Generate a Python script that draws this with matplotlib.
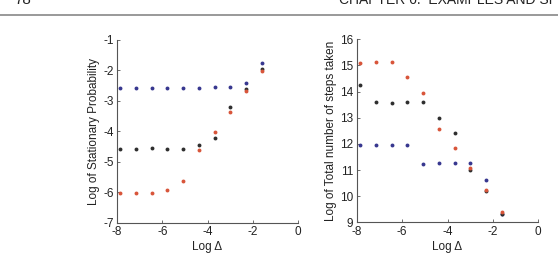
import matplotlib
matplotlib.use('Agg')
import matplotlib.pyplot as plt

plt.rcParams['font.family'] = ['Liberation Sans', 'DejaVu Sans']
plt.rcParams['axes.unicode_minus'] = False

# log of step size: delta = 0.2 / 2^k
log_delta = [-7.85, -7.15, -6.46, -5.77, -5.08, -4.38, -3.69, -3.00, -2.30, -1.61]

# left panel: log of stationary probability
prob_blue = [-2.59, -2.59, -2.59, -2.59, -2.56, -2.59, -2.54, -2.55, -2.42, -1.76]
prob_black = [-4.59, -4.59, -4.56, -4.57, -4.57, -4.46, -4.21, -3.21, -2.62, -1.94]
prob_red = [-6.01, -6.01, -6.03, -5.93, -5.64, -4.62, -4.01, -3.35, -2.67, -2.01]

# right panel: log of total number of steps taken
steps_blue = [11.95, 11.97, 11.95, 11.97, 11.24, 11.27, 11.27, 11.27, 10.63, 9.30]
steps_black = [14.27, 13.60, 13.57, 13.60, 13.60, 13.00, 12.41, 10.99, 10.21, 9.30]
steps_red = [15.11, 15.15, 15.12, 14.54, 13.96, 12.57, 11.85, 11.06, 10.22, 9.41]

BLUE = '#37378f'
BLACK = '#2e2e2e'
RED = '#d8553a'
FS = 8.5

fig = plt.figure(figsize=(5.58, 2.59), dpi=100)

# page header, cut off at the top like the scanned page
fig.text(14 / 558, 1 - 4 / 259, '78', fontsize=11, color='#222222', va='baseline')
fig.text(339 / 558, 1 - 4 / 259, 'CHAPTER 6.  EXAMPLES AND SI', fontsize=10,
         color='#222222', va='baseline', ha='left')
fig.add_artist(plt.Line2D([0, 1], [1 - 15 / 259, 1 - 15 / 259], color='#888888', lw=1.2))


def style(ax):
    ax.spines['top'].set_visible(False)
    ax.spines['right'].set_visible(False)
    for s in ('left', 'bottom'):
        ax.spines[s].set_color('#555555')
        ax.spines[s].set_linewidth(0.8)
    ax.tick_params(direction='in', length=2.5, width=0.6, labelsize=FS,
                   colors='#555555', labelcolor='#222222', pad=2.5)
    ax.set_xlim(-8, 0)
    ax.set_xticks([-8, -6, -4, -2, 0])
    ax.set_xlabel('Log \u0394', fontsize=FS, color='#222222', labelpad=2)


ax1 = fig.add_axes([117 / 558, 1 - 222.7 / 259, 181 / 558, 182.7 / 259])
for ys, c in [(prob_blue, BLUE), (prob_black, BLACK), (prob_red, RED)]:
    ax1.plot(log_delta, ys, 'o', ms=2.8, mew=0, color=c)
style(ax1)
ax1.set_ylim(-7, -1)
ax1.set_yticks(range(-7, 0))
ax1.set_ylabel('Log of Stationary Probability', fontsize=FS, color='#222222', labelpad=2)

ax2 = fig.add_axes([356.7 / 558, 1 - 222.3 / 259, 181.6 / 558, 183 / 259])
for ys, c in [(steps_blue, BLUE), (steps_black, BLACK), (steps_red, RED)]:
    ax2.plot(log_delta, ys, 'o', ms=2.8, mew=0, color=c)
style(ax2)
ax2.set_ylim(9, 16)
ax2.set_yticks(range(9, 17))
ax2.set_ylabel('Log of Total number of steps taken', fontsize=FS, color='#222222', labelpad=2)

fig.savefig('out.png', dpi=100)
